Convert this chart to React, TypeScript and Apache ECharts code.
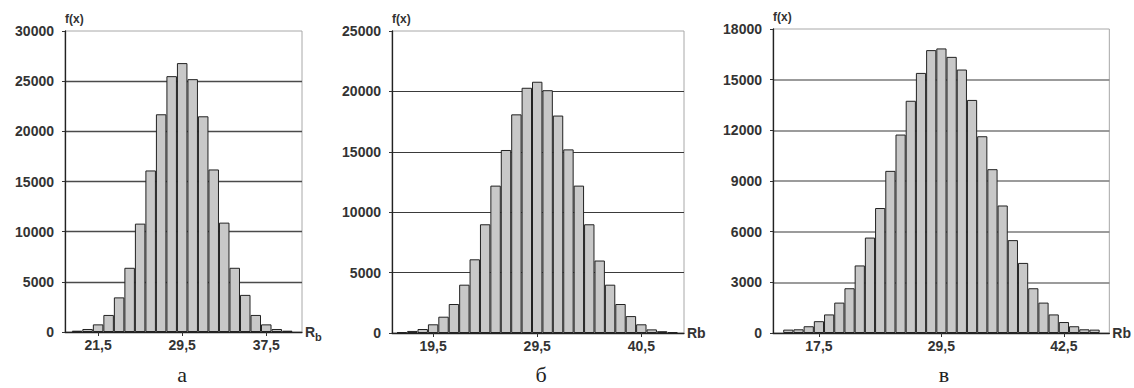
import React, { useEffect, useRef } from "react";
import * as echarts from "echarts";

// ---- Panel а ----
const binsA = [19.5, 20.5, 21.5, 22.5, 23.5, 24.5, 25.5, 26.5, 27.5, 28.5, 29.5, 30.5, 31.5, 32.5, 33.5, 34.5, 35.5, 36.5, 37.5, 38.5, 39.5];
const valuesA = [130, 300, 760, 1700, 3450, 6400, 10800, 16100, 21700, 25500, 26800, 25200, 21500, 16200, 10900, 6400, 3700, 1700, 760, 300, 130];
const tickValuesA = [21.5, 29.5, 37.5];
const tickLabelsA = ["21,5", "29,5", "37,5"];

// ---- Panel б ----
const binsB = [16.5, 17.5, 18.5, 19.5, 20.5, 21.5, 22.5, 23.5, 24.5, 25.5, 26.5, 27.5, 28.5, 29.5, 30.5, 31.5, 32.5, 33.5, 34.5, 35.5, 36.5, 37.5, 38.5, 39.5, 40.5, 41.5, 42.5];
const valuesB = [80, 170, 330, 720, 1350, 2400, 4000, 6100, 9000, 12200, 15150, 18100, 20300, 20800, 20100, 18000, 15200, 12200, 9000, 6000, 4000, 2400, 1400, 720, 300, 150, 80];
const tickValuesB = [19.5, 29.5, 39.5];
const tickLabelsB = ["19,5", "29,5", "40,5"];

// ---- Panel в ----
const binsC = [14.5, 15.5, 16.5, 17.5, 18.5, 19.5, 20.5, 21.5, 22.5, 23.5, 24.5, 25.5, 26.5, 27.5, 28.5, 29.5, 30.5, 31.5, 32.5, 33.5, 34.5, 35.5, 36.5, 37.5, 38.5, 39.5, 40.5, 41.5, 42.5, 43.5, 44.5];
const valuesC = [200, 220, 400, 700, 1100, 1800, 2650, 4000, 5650, 7400, 9600, 11750, 13750, 15400, 16750, 16850, 16350, 15600, 13800, 11650, 9700, 7550, 5500, 4150, 2650, 1800, 1100, 650, 400, 220, 200];
const tickValuesC = [17.5, 29.5, 41.5];
const tickLabelsC = ["17,5", "29,5", "42,5"];

const captions = ["а", "б", "в"];
const yMaxes = [30000, 25000, 18000];
const ySteps = [5000, 5000, 3000];

const panels = [
  { bins: binsA, values: valuesA, ticks: tickValuesA, labels: tickLabelsA, xMin: 18.35, xMax: 40.9, grid: { left: 65, top: 31, width: 237, height: 301 }, split: "#4a4a4a", splitW: 1.3, xName: "{r|R}{s|b}", cap: 182 },
  { bins: binsB, values: valuesB, ticks: tickValuesB, labels: tickLabelsB, xMin: 15.55, xMax: 43.6, grid: { left: 392, top: 31, width: 292, height: 302 }, split: "#3a3a3a", splitW: 1.1, xName: "Rb", cap: 541 },
  { bins: binsC, values: valuesC, ticks: tickValuesC, labels: tickLabelsC, xMin: 13.0, xMax: 45.95, grid: { left: 773, top: 29, width: 340, height: 304 }, split: "#7a7a7a", splitW: 1.6, xName: "Rb", cap: 944 },
];

const FONT = "'Liberation Sans', Arial, sans-serif";

export default function App() {
  const ref = useRef<HTMLDivElement>(null);
  useEffect(() => {
    if (!ref.current) return;
    const chart = echarts.init(ref.current, null, { renderer: "svg" });
    const grids: any[] = [];
    const xAxes: any[] = [];
    const yAxes: any[] = [];
    const series: any[] = [];
    const graphics: any[] = [];
    panels.forEach((p, i) => {
      grids.push({ ...p.grid, show: true, borderColor: "#a8a8a8", borderWidth: 1, containLabel: false });
      xAxes.push({
        type: "value",
        gridIndex: i,
        min: p.xMin,
        max: p.xMax,
        name: p.xName,
        nameLocation: "end",
        nameGap: 3,
        nameTextStyle: {
          fontFamily: FONT,
          fontSize: 14,
          fontWeight: "bold",
          color: "#333",
          verticalAlign: "middle",
          rich: {
            r: { fontFamily: FONT, fontSize: 14, fontWeight: "bold", color: "#333" },
            s: { fontFamily: FONT, fontSize: 11, fontWeight: "bold", color: "#333", padding: [9, 0, 0, 0] },
          },
        },
        axisLine: { show: true, onZero: false, lineStyle: { color: "#222", width: 1.3 } },
        axisTick: { show: true, customValues: p.ticks, length: 4, lineStyle: { color: "#333" } },
        axisLabel: {
          customValues: p.ticks,
          margin: 6,
          fontFamily: FONT,
          fontSize: 14,
          fontWeight: "bold",
          color: "#333",
          formatter: (v: number) => {
            const k = p.ticks.findIndex((t) => Math.abs(t - v) < 1e-6);
            return k >= 0 ? p.labels[k] : "";
          },
        },
        splitLine: { show: false },
      });
      yAxes.push({
        type: "value",
        gridIndex: i,
        min: 0,
        max: yMaxes[i],
        interval: ySteps[i],
        name: "f(x)",
        nameLocation: "end",
        nameGap: 6,
        nameTextStyle: { fontFamily: FONT, fontSize: 12, fontWeight: "bold", color: "#333", align: "left" },
        axisLine: { show: true, lineStyle: { color: "#222", width: 1.3 } },
        axisTick: { show: true, length: 3, lineStyle: { color: "#333" } },
        axisLabel: {
          margin: 11,
          fontFamily: FONT,
          fontSize: 14,
          fontWeight: "bold",
          color: "#333",
          formatter: (v: number) => String(v),
        },
        splitLine: { show: true, showMaxLine: false, showMinLine: false, lineStyle: { color: p.split, width: p.splitW } },
      });
      series.push({
        type: "bar",
        xAxisIndex: i,
        yAxisIndex: i,
        barWidth: "100%",
        data: p.bins.map((x, k) => [x, p.values[k]]),
        itemStyle: { color: "#c8c8c8", borderColor: "#222", borderWidth: 1 },
        silent: true,
      });
      graphics.push({
        type: "text",
        x: p.cap,
        y: 374,
        style: {
          text: captions[i],
          font: "22px 'Liberation Serif', 'Times New Roman', serif",
          fill: "#222",
          align: "center",
          verticalAlign: "middle",
        },
      });
    });
    chart.setOption({
      animation: false,
      backgroundColor: "#fff",
      grid: grids,
      xAxis: xAxes,
      yAxis: yAxes,
      series,
      graphic: graphics,
    });
    return () => chart.dispose();
  }, []);
  return (
    <div
      ref={ref}
      style={{ position: "absolute", left: 0, top: 0, width: 1134, height: 388 }}
    />
  );
}
